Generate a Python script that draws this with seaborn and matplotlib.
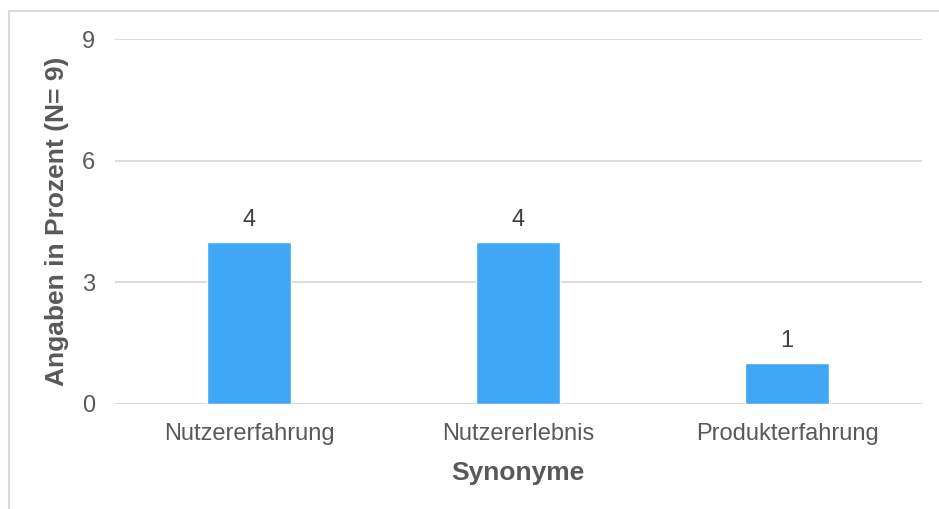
import matplotlib
matplotlib.use("Agg")
import matplotlib.pyplot as plt
import seaborn as sns
import pandas as pd
from matplotlib.patches import Rectangle

categories = ["Nutzererfahrung", "Nutzererlebnis", "Produkterfahrung"]
counts = [4, 4, 1]
y_ticks = [0, 3, 6, 9]

df = pd.DataFrame({"Synonyme": categories, "Anzahl": counts})

sns.set_theme(style="white")
plt.rcParams["font.family"] = ["Liberation Sans", "DejaVu Sans"]

TEXT = "#595959"
GRID = "#D9D9D9"
BAR = "#3FA7F5"

fig = plt.figure(figsize=(9.39, 5.09), dpi=100)
ax = fig.add_axes([114.5 / 939, 105 / 509, 807 / 939, 365 / 509])

sns.barplot(data=df, x="Synonyme", y="Anzahl", color=BAR, width=0.31,
            saturation=1, ax=ax)

ax.set_ylim(0, 9)
ax.set_yticks(y_ticks)
ax.yaxis.grid(True, color=GRID, linewidth=1.3)
ax.set_axisbelow(True)
for s in ax.spines.values():
    s.set_visible(False)
ax.axhline(0, color=GRID, linewidth=1.5, zorder=0.5)

ax.tick_params(axis="both", length=0, labelsize=17, labelcolor=TEXT)
ax.tick_params(axis="y", pad=14)
ax.tick_params(axis="x", pad=14)

ax.set_xlabel("Synonyme", fontsize=19, fontweight="bold", color=TEXT, labelpad=11)
ax.set_ylabel("Angaben in Prozent (N= 9)", fontsize=19, fontweight="bold",
              color=TEXT, labelpad=9)

for container in ax.containers:
    ax.bar_label(container, labels=[str(v) for v in counts], fontsize=17,
                 color="#404040", padding=8)

# light chart-area frame
fig.patches.append(Rectangle((8.5 / 939, -0.1), 1.2, (509 - 10.5) / 509 + 0.1,
                             transform=fig.transFigure, fill=False,
                             edgecolor=GRID, linewidth=1.5))

fig.savefig("out.png", dpi=100)
